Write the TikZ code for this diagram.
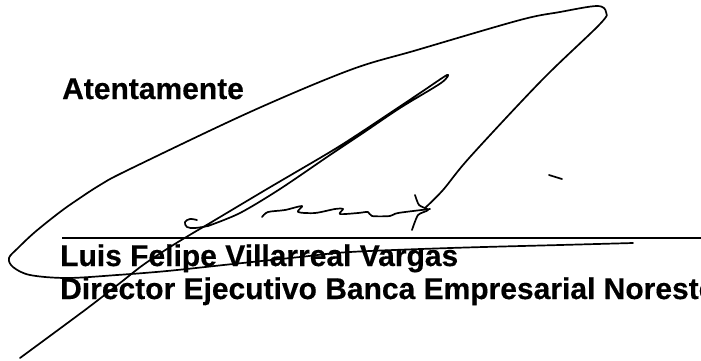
\documentclass[tikz,border=0pt]{standalone}
\usepackage{fontspec}
\setmainfont{Liberation Sans}[BoldFeatures={FakeBold=0.4}]
\begin{document}
\begin{tikzpicture}[x=1pt,y=-1pt,
  txt/.style={anchor=base west, inner sep=0pt, font=\fontsize{30}{34}\selectfont\bfseries},
  sig/.style={line width=1.7pt, line cap=round, line join=round},
  rule/.style={line width=2.4pt}]
\useasboundingbox (0,0) rectangle (701,360);
\clip (0,0) rectangle (701,360);
% texts
\node[txt] (atent) at (62,99) {Atentamente};
\node[txt] (name) at (60,266) {Luis Felipe Villarreal Vargas};
\node[txt] (title) at (60,299) {Director Ejecutivo Banca Empresarial Noreste};
% signature rule
\coordinate (r1) at (62,238);
\coordinate (r2) at (701,238);
\draw[rule] (r1) -- (r2);
% big loop
\draw[sig] plot[smooth, tension=0.55] coordinates {
  (425,208) (443,190) (470,157) (542,80) (600,24) (606,12) (597,6)
  (560,12) (520,20) (417,50) (350,70) (250,112) (128,170) (100,185)
  (77,200) (60,212) (35,232) (18,248) (9,258) (13,267) (30,275)
  (67,278) (117,275) (167,271) (233,264) (300,257) (350,252)
  (450,248) (560,245) (633,243)};
% long diagonal and narrow loop
\draw[sig] plot[smooth, tension=0.5] coordinates {
  (20,358) (85,310) (120,283) (143,265) (170,247) (193,233) (210,223)
  (267,189) (330,152) (363,131) (420,93) (447,75) (441,83)
  (400,108) (363,133) (330,155) (280,189) (240,213) (208,226)};
% hook
\draw[sig] plot[smooth, tension=0.6] coordinates {
  (197,220) (190,219) (185,222) (187,227) (195,228) (208,226)};
% wavy scribble
\draw[sig] plot[smooth, tension=0.5] coordinates {
  (262,217) (268,212) (285,210) (302,206) (298,212) (315,213) (335,209)
  (343,209) (340,214) (358,213) (368,212) (372,216) (390,216) (398,213)
  (430,209)};
% flourish
\draw[sig] plot[smooth, tension=0.4] coordinates {
  (415,195) (419,205) (428,210) (418,215) (412,230)};
% small dash
\coordinate (d1) at (549,175);
\coordinate (d2) at (562,179);
\draw[sig] (d1) -- (d2);
\end{tikzpicture}
\end{document}
